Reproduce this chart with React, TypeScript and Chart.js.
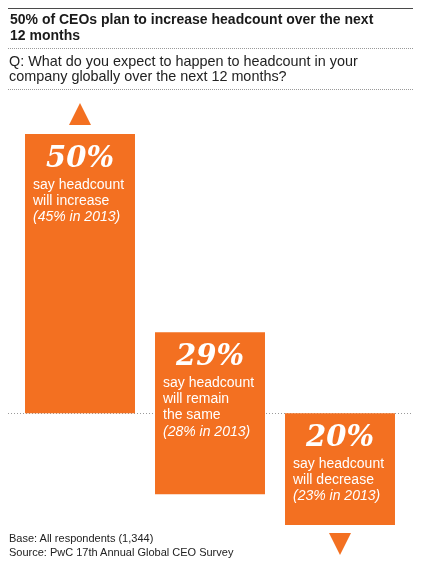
import React, { useEffect, useRef } from "react";
import { Chart, registerables } from "chart.js";

Chart.register(...registerables);

const categories = ["Increase", "Remain the same", "Decrease"];
const shares2014 = [50, 29, 20];
const shares2013 = [45, 28, 23];
const descriptions = [
  ["say headcount", "will increase"],
  ["say headcount", "will remain", "the same"],
  ["say headcount", "will decrease"],
];
const titleLines = [
  "50% of CEOs plan to increase headcount over the next",
  "12 months",
];
const questionLines = [
  "Q: What do you expect to happen to headcount in your",
  "company globally over the next 12 months?",
];
const footnotes = [
  "Base: All respondents (1,344)",
  "Source: PwC 17th Annual Global CEO Survey",
];

const ORANGE = "#F37021";
const SANS = "'Liberation Sans', Arial, sans-serif";

// increase sits above the baseline, "same" straddles it, decrease hangs below
function toRange(i: number, v: number): [number, number] {
  if (i === 0) return [0, v];
  if (i === 1) return [-v / 2, v / 2];
  return [-v, 0];
}

const labelPlugin = {
  id: "labelPlugin",
  beforeDatasetsDraw(chart: any) {
    const ctx = chart.ctx;
    const y0 = chart.scales.y.getPixelForValue(0);
    ctx.save();
    ctx.strokeStyle = "#9a9a9a";
    ctx.lineWidth = 1;
    ctx.setLineDash([1, 2]);
    ctx.beginPath();
    ctx.moveTo(8, Math.round(y0) + 0.5);
    ctx.lineTo(413, Math.round(y0) + 0.5);
    ctx.stroke();
    ctx.restore();
  },
  afterDatasetsDraw(chart: any) {
    const ctx = chart.ctx;
    const meta = chart.getDatasetMeta(0);
    ctx.save();
    meta.data.forEach((bar: any, i: number) => {
      const top = Math.min(bar.y, bar.base);
      const bottom = Math.max(bar.y, bar.base);
      const left = bar.x - bar.width / 2;
      ctx.fillStyle = "#ffffff";
      ctx.textAlign = "center";
      ctx.textBaseline = "alphabetic";
      ctx.font = "bold italic 29px 'DejaVu Serif', serif";
      ctx.fillText(shares2014[i] + "%", bar.x, top + 33);
      ctx.textAlign = "left";
      ctx.font = "14px " + SANS;
      const lines = descriptions[i];
      lines.forEach((ln, k) => {
        ctx.fillText(ln, left + 8, top + 54.5 + k * 16.3);
      });
      ctx.font = "italic 14px " + SANS;
      ctx.fillText(
        "(" + shares2013[i] + "% in 2013)",
        left + 8,
        top + 54.5 + lines.length * 16.3
      );
      // arrows
      ctx.fillStyle = ORANGE;
      if (i === 0) {
        ctx.beginPath();
        ctx.moveTo(bar.x - 11, top - 9);
        ctx.lineTo(bar.x + 11, top - 9);
        ctx.lineTo(bar.x, top - 31);
        ctx.closePath();
        ctx.fill();
      } else if (i === categories.length - 1) {
        ctx.beginPath();
        ctx.moveTo(bar.x - 11, bottom + 8);
        ctx.lineTo(bar.x + 11, bottom + 8);
        ctx.lineTo(bar.x, bottom + 30);
        ctx.closePath();
        ctx.fill();
      }
    });
    ctx.restore();
  },
};

export default function App() {
  const ref = useRef<HTMLCanvasElement | null>(null);
  useEffect(() => {
    if (!ref.current) return;
    const chart = new Chart(ref.current, {
      type: "bar",
      data: {
        labels: categories,
        datasets: [
          {
            data: shares2014.map((v, i) => toRange(i, v)) as any,
            backgroundColor: ORANGE,
            borderWidth: 0,
            barPercentage: 0.846,
            categoryPercentage: 1,
          },
        ],
      },
      options: {
        animation: false,
        responsive: true,
        maintainAspectRatio: false,
        layout: { padding: { top: 134, bottom: 45, left: 15, right: 16 } },
        plugins: {
          legend: { display: false },
          tooltip: { enabled: false },
          title: { display: false },
        },
        scales: {
          x: { display: false },
          y: { display: false, min: -20, max: 50 },
        },
      },
      plugins: [labelPlugin],
    });
    return () => chart.destroy();
  }, []);

  return (
    <div
      style={{
        position: "absolute",
        left: 0,
        top: 0,
        width: 421,
        height: 570,
        background: "#fff",
        fontFamily: SANS,
      }}
    >
      <canvas ref={ref} style={{ position: "absolute", left: 0, top: 0 }} />
      <div style={{ position: "absolute", left: 8, top: 8, width: 405, borderTop: "1px solid #4a4a4a" }} />
      <div
        style={{
          position: "absolute",
          left: 10,
          top: 12,
          fontWeight: "bold",
          fontSize: 14,
          lineHeight: "15.5px",
          color: "#1a1a1a",
          whiteSpace: "nowrap",
        }}
      >
        {titleLines.map((t) => (
          <div key={t}>{t}</div>
        ))}
      </div>
      <div style={{ position: "absolute", left: 8, top: 48, width: 405, borderTop: "1px dotted #999" }} />
      <div
        style={{
          position: "absolute",
          left: 9,
          top: 54,
          fontSize: 14.4,
          lineHeight: "15px",
          color: "#222",
          whiteSpace: "nowrap",
        }}
      >
        {questionLines.map((t) => (
          <div key={t}>{t}</div>
        ))}
      </div>
      <div style={{ position: "absolute", left: 8, top: 89, width: 405, borderTop: "1px dotted #999" }} />
      <div
        style={{
          position: "absolute",
          left: 9,
          top: 531,
          fontSize: 11,
          lineHeight: "14px",
          color: "#222",
          whiteSpace: "nowrap",
        }}
      >
        {footnotes.map((t) => (
          <div key={t}>{t}</div>
        ))}
      </div>
    </div>
  );
}
